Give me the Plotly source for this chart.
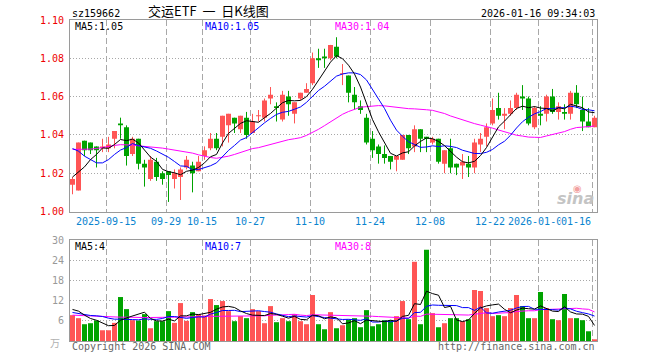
import plotly.graph_objects as go

# ---------------- data ----------------
trade_dates = (
    ["2025-09-" + d for d in "05 08 09 10 11 12 15 16 17 18 19 22 23 24 25 26 29 30".split()]
    + ["2025-10-" + d for d in "09 10 13 14 15 16 17 20 21 22 23 24 27 28 29 30 31".split()]
    + ["2025-11-" + d for d in "03 04 05 06 07 10 11 12 13 14 17 18 19 20 21 24 25 26 27 28".split()]
    + ["2025-12-" + d for d in "01 02 03 04 05 08 09 10 11 12 15 16 17 18 19 22 23 24 25 26 29 30 31".split()]
    + ["2026-01-" + d for d in "05 06 07 08 09 12 13 14 15 16".split()]
)

opens = [1.014, 1.011, 1.037, 1.036, 1.034, 1.033, 1.033, 1.038, 1.046, 1.044,
         1.030, 1.038, 1.025, 1.017, 1.026, 1.020, 1.021, 1.017, 1.018, 1.023,
         1.024, 1.021, 1.029, 1.033, 1.038, 1.039, 1.045, 1.049, 1.043, 1.049,
         1.041, 1.050, 1.049, 1.059, 1.055, 1.048, 1.060, 1.051, 1.059, 1.062,
         1.067, 1.080, 1.081, 1.080, 1.086, 1.072, 1.071, 1.061, 1.055, 1.049,
         1.038, 1.034, 1.030, 1.029, 1.027, 1.027, 1.040, 1.034, 1.043, 1.039,
         1.036, 1.038, 1.025, 1.033, 1.025, 1.024, 1.025, 1.023, 1.035, 1.039,
         1.046, 1.054, 1.050, 1.051, 1.054, 1.060, 1.059, 1.044, 1.051, 1.051,
         1.060, 1.052, 1.052, 1.051, 1.062, 1.053, 1.047, 1.044]
highs = [1.018, 1.036, 1.037, 1.036, 1.034, 1.038, 1.039, 1.042, 1.049, 1.045,
         1.039, 1.038, 1.027, 1.029, 1.028, 1.021, 1.021, 1.022, 1.023, 1.029,
         1.026, 1.029, 1.034, 1.041, 1.041, 1.050, 1.051, 1.049, 1.050, 1.052,
         1.051, 1.053, 1.059, 1.065, 1.057, 1.063, 1.063, 1.057, 1.062, 1.067,
         1.083, 1.085, 1.085, 1.087, 1.091, 1.077, 1.071, 1.065, 1.058, 1.051,
         1.042, 1.035, 1.0345, 1.029, 1.029, 1.040, 1.040, 1.045, 1.043, 1.039,
         1.039, 1.038, 1.032, 1.038, 1.025, 1.030, 1.029, 1.038, 1.041, 1.046,
         1.059, 1.062, 1.054, 1.058, 1.062, 1.066, 1.060, 1.055, 1.055, 1.061,
         1.064, 1.057, 1.056, 1.063, 1.066, 1.060, 1.054, 1.050]
lows = [1.009, 1.011, 1.029, 1.030, 1.023, 1.031, 1.031, 1.033, 1.038, 1.024,
        1.029, 1.022, 1.013, 1.016, 1.016, 1.014, 1.005, 1.012, 1.006, 1.022,
        1.010, 1.021, 1.027, 1.032, 1.032, 1.034, 1.036, 1.041, 1.041, 1.038,
        1.041, 1.047, 1.047, 1.056, 1.047, 1.047, 1.050, 1.046, 1.058, 1.062,
        1.066, 1.075, 1.075, 1.079, 1.080, 1.066, 1.057, 1.053, 1.051, 1.035,
        1.028, 1.025, 1.025, 1.022, 1.021, 1.027, 1.030, 1.031, 1.031, 1.031,
        1.035, 1.025, 1.020, 1.020, 1.019, 1.017, 1.018, 1.020, 1.031, 1.034,
        1.045, 1.048, 1.043, 1.050, 1.053, 1.053, 1.045, 1.043, 1.045, 1.047,
        1.051, 1.048, 1.048, 1.048, 1.054, 1.042, 1.044, 1.044]
closes = [1.017, 1.036, 1.032, 1.032, 1.032, 1.034, 1.035, 1.042, 1.045, 1.029,
          1.038, 1.025, 1.023, 1.027, 1.018, 1.017, 1.019, 1.020, 1.022, 1.027,
          1.020, 1.026, 1.032, 1.038, 1.033, 1.050, 1.051, 1.046, 1.050, 1.040,
          1.047, 1.050, 1.058, 1.061, 1.054, 1.061, 1.056, 1.057, 1.062, 1.064,
          1.080, 1.079, 1.080, 1.087, 1.081, 1.072, 1.062, 1.057, 1.053, 1.036,
          1.032, 1.030, 1.028, 1.026, 1.029, 1.040, 1.033, 1.043, 1.038, 1.038,
          1.038, 1.026, 1.032, 1.023, 1.023, 1.026, 1.023, 1.036, 1.038, 1.044,
          1.053, 1.050, 1.051, 1.054, 1.061, 1.059, 1.046, 1.054, 1.050, 1.060,
          1.052, 1.055, 1.051, 1.062, 1.056, 1.047, 1.044, 1.049]
volumes = [7.7, 6.8, 5.0, 5.3, 6.1, 3.2, 3.2, 5.4, 13.1, 9.5,
           6.2, 6.1, 8.0, 3.8, 5.9, 5.9, 8.9, 5.4, 11.3, 6.0,
           8.6, 8.0, 7.6, 12.5, 10.7, 11.9, 8.9, 5.9, 7.4, 6.8,
           9.5, 8.9, 5.3, 10.4, 5.6, 6.8, 5.9, 8.0, 5.9, 5.0,
           13.7, 5.0, 3.5, 8.6, 3.8, 4.7, 6.4, 6.8, 4.1, 9.2,
           4.4, 5.0, 6.2, 6.2, 7.4, 11.9, 6.5, 23.6, 5.0, 27.2,
           8.3, 4.1, 5.3, 6.8, 6.8, 5.9, 6.5, 15.2, 14.9, 9.8,
           7.4, 7.7, 7.4, 9.8, 13.7, 10.4, 6.8, 6.8, 14.6, 9.8,
           6.5, 6.2, 14.0, 6.8, 6.8, 6.2, 2.9, 0.5]

# moving-average values at the left edge (their history lies before the window)
ma5_head = [1.018, 1.0205, 1.0233, 1.0271]
ma10_head = [1.0329, 1.0315, 1.0289, 1.0271, 1.0254, 1.0254, 1.0271, 1.0298, 1.0321]
ma30_head = [1.0324, 1.0324, 1.0324, 1.0326, 1.0329, 1.0335, 1.0340, 1.0345, 1.0349, 1.0349,
             1.0347, 1.0343, 1.0340, 1.0338, 1.0336, 1.0331, 1.0326, 1.0321, 1.0315, 1.0310,
             1.0305, 1.0296, 1.0287, 1.0282, 1.0278, 1.0282, 1.0289, 1.0298, 1.0307]
vma5_head = [9.4, 8.9, 7.7, 6.7]
vma10_head = [8.5, 8.2, 7.8, 7.6, 7.5, 7.3, 6.8, 6.5, 6.5]
vma30_head = [7.7, 7.6, 7.5, 7.4, 7.4, 7.3, 7.2, 7.1, 7.1, 7.1, 7.0, 7.0, 7.0, 7.0, 7.0,
              7.0, 7.0, 7.1, 7.1, 7.2, 7.2, 7.3, 7.3, 7.4, 7.4, 7.4, 7.4, 7.4, 7.4]

tick_dates = ["2025-09-15", "2025-09-29", "2025-10-15", "2025-10-27", "2025-11-10",
              "2025-11-24", "2025-12-08", "2025-12-22", "2026-01-05", "2026-01-16"]
tick_labels = ["2025-09-15", "09-29", "10-15", "10-27", "11-10",
               "11-24", "12-08", "12-22", "2026-01-05", "01-16"]
price_ticks = [1.00, 1.02, 1.04, 1.06, 1.08, 1.10]
vol_ticks = [6, 12, 18, 24, 30]

# ---------------- styling ----------------
RED = "#ff5555"
GREEN = "#00a300"
GRID = "#a8a8a8"
BORDER = "#9a9a9a"
MONO = "DejaVu Sans Mono"
CJK = "Noto Sans CJK SC"
BAR_W = 5 / 6
HALF = 2.5 / 6  # offset from candle centre to its left edge


def moving_avg(vals, w, head):
    out = list(head)
    for i in range(len(head), len(vals)):
        out.append(sum(vals[i - w + 1:i + 1]) / w)
    return out


n = len(closes)
idx = list(range(n))
up = [c >= o for o, c in zip(opens, closes)]
colors = [RED if u else GREEN for u in up]
min_body = 0.0004
body_base = []
body_h = []
for o, c in zip(opens, closes):
    d = abs(c - o)
    h = max(d, min_body)
    body_base.append(min(o, c) - (h - d) / 2)
    body_h.append(h)

tick_pos = [trade_dates.index(d) - HALF for d in tick_dates]

fig = go.Figure()

# ---- volume panel ----
fig.add_trace(go.Bar(x=idx, y=volumes, width=BAR_W, marker=dict(color=colors, line=dict(width=0)),
                     xaxis="x2", yaxis="y2", hoverinfo="skip"))
for vals, col in [(moving_avg(volumes, 30, vma30_head), "#ff00ff"),
                  (moving_avg(volumes, 10, vma10_head), "#0000ff"),
                  (moving_avg(volumes, 5, vma5_head), "#000000")]:
    fig.add_trace(go.Scatter(x=idx, y=vals, mode="lines", line=dict(color=col, width=1),
                             xaxis="x2", yaxis="y2", hoverinfo="skip"))

# ---- candles: wicks ----
for want_up, col in [(True, RED), (False, GREEN)]:
    wx, wy = [], []
    for i in idx:
        if up[i] == want_up:
            wx += [i, i, None]
            wy += [lows[i], highs[i], None]
    fig.add_trace(go.Scatter(x=wx, y=wy, mode="lines", line=dict(color=col, width=1),
                             hoverinfo="skip"))
# ---- candles: bodies ----
fig.add_trace(go.Bar(x=idx, y=body_h, base=body_base, width=BAR_W,
                     marker=dict(color=colors, line=dict(width=0)), hoverinfo="skip"))

# ---- price moving averages ----
for vals, col in [(moving_avg(closes, 30, ma30_head), "#ff00ff"),
                  (moving_avg(closes, 10, ma10_head), "#0000ff"),
                  (moving_avg(closes, 5, ma5_head), "#000000")]:
    fig.add_trace(go.Scatter(x=idx, y=vals, mode="lines", line=dict(color=col, width=1),
                             hoverinfo="skip"))

xrange = [-HALF, n - 1 + HALF]
xcommon = dict(range=xrange, tickvals=tick_pos, showticklabels=False, ticks="",
               showgrid=True, gridcolor=GRID, griddash="6px,3px", gridwidth=1,
               zeroline=False, showline=True, mirror=True, linecolor=BORDER, linewidth=1,
               fixedrange=True)

MAIN_BOTTOM = 0.4034
VOL_TOP = 0.3137

fig.update_layout(
    width=660, height=360,
    margin=dict(l=70, r=63, t=20, b=19),
    paper_bgcolor="white", plot_bgcolor="white",
    showlegend=False, barmode="overlay",
    xaxis=dict(domain=[0, 1], anchor="y", **xcommon),
    xaxis2=dict(domain=[0, 1], anchor="y2", matches="x", **xcommon),
    yaxis=dict(domain=[MAIN_BOTTOM, 1], anchor="x", range=[1.0, 1.1], tickvals=price_ticks,
               ticktext=["%.2f" % v for v in price_ticks], ticks="", ticklabelstandoff=3,
               tickfont=dict(family=MONO, size=10, color="#ee0000"),
               showgrid=True, gridcolor=GRID, griddash="1px,2px", zeroline=False,
               showline=True, mirror=True, linecolor=BORDER, linewidth=1, fixedrange=True),
    yaxis2=dict(domain=[0, VOL_TOP], anchor="x2", range=[0, 30], tickvals=vol_ticks,
                ticktext=[str(v) for v in vol_ticks], ticks="", ticklabelstandoff=3,
                tickfont=dict(family=MONO, size=10, color="#999999"),
                showgrid=True, gridcolor=GRID, griddash="1px,2px", zeroline=False,
                showline=True, mirror=True, linecolor=BORDER, linewidth=1, fixedrange=True),
)

ann = []
# date labels under the price panel
for k, (p, lab) in enumerate(zip(tick_pos, tick_labels)):
    last = k == len(tick_labels) - 1
    ann.append(dict(x=p, y=1.0, xref="x", yref="y", text=lab, showarrow=False,
                    xanchor="right" if last else "center", yanchor="top", yshift=-3,
                    font=dict(family=MONO, size=10, color="#0a84cf"),
                    bgcolor="white" if last else None, borderpad=0))
# MA legends
for text, col, dx in [("MA5:1.05", "#000000", 3), ("MA10:1.05", "#0000ff", 133),
                      ("MA30:1.04", "#ff00ff", 263)]:
    ann.append(dict(x=0, y=1, xref="paper", yref="paper", text=text, showarrow=False,
                    xanchor="left", yanchor="top", xshift=dx, yshift=1,
                    font=dict(family=MONO, size=10, color=col)))
for text, col, dx in [("MA5:4", "#000000", 3), ("MA10:7", "#0000ff", 133),
                      ("MA30:8", "#ff00ff", 263)]:
    ann.append(dict(x=0, y=VOL_TOP, xref="paper", yref="paper", text=text, showarrow=False,
                    xanchor="left", yanchor="top", xshift=dx, yshift=1,
                    font=dict(family=MONO, size=10, color=col)))
# header
ann.append(dict(x=0, y=1, xref="paper", yref="paper", text="sz159662", showarrow=False,
                xanchor="left", yanchor="bottom", yshift=-1,
                font=dict(family=MONO, size=10, color="#000000")))
ann.append(dict(x=0.262, y=1, xref="paper", yref="paper",
                text="交运ETF\u00a0\u00a0一\u00a0\u00a0日K线图", showarrow=False,
                xanchor="center", yanchor="bottom", yshift=-2,
                font=dict(family=CJK, size=13, color="#000000")))
ann.append(dict(x=1, y=1, xref="paper", yref="paper", text="2026-01-16 09:34:03", showarrow=False,
                xanchor="right", yanchor="bottom", yshift=-1,
                font=dict(family=MONO, size=10, color="#000000")))
# footer
ann.append(dict(x=0, y=0, xref="paper", yref="paper", text="Copyright 2026 SINA.COM", showarrow=False,
                xanchor="left", yanchor="top", yshift=2,
                font=dict(family=MONO, size=10, color="#666666")))
ann.append(dict(x=1, y=0, xref="paper", yref="paper", text="http://finance.sina.com.cn", showarrow=False,
                xanchor="right", yanchor="top", yshift=2,
                font=dict(family=MONO, size=10, color="#666666")))
ann.append(dict(x=0, y=0, xref="paper", yref="paper", text="万", showarrow=False,
                xanchor="right", yanchor="middle", xshift=-8, yshift=-1,
                font=dict(family=CJK, size=10, color="#b0b0b0")))
# sina watermark
ann.append(dict(x=1, y=MAIN_BOTTOM, xref="paper", yref="paper", text="<b><i>sina</i></b>",
                showarrow=False, xanchor="right", yanchor="bottom", xshift=-1, yshift=2,
                font=dict(family="DejaVu Sans", size=16, color="#c4c4c4")))
ann.append(dict(x=1, y=MAIN_BOTTOM, xref="paper", yref="paper", text="◉",
                showarrow=False, xanchor="right", yanchor="bottom", xshift=-13, yshift=16,
                font=dict(family="DejaVu Sans", size=10, color="#f2a0a0")))

fig.update_layout(annotations=ann)
fig.write_html("out.html", config={"displayModeBar": False, "staticPlot": True},
               post_script="document.body.style.margin='0';document.body.style.overflow='hidden';")
